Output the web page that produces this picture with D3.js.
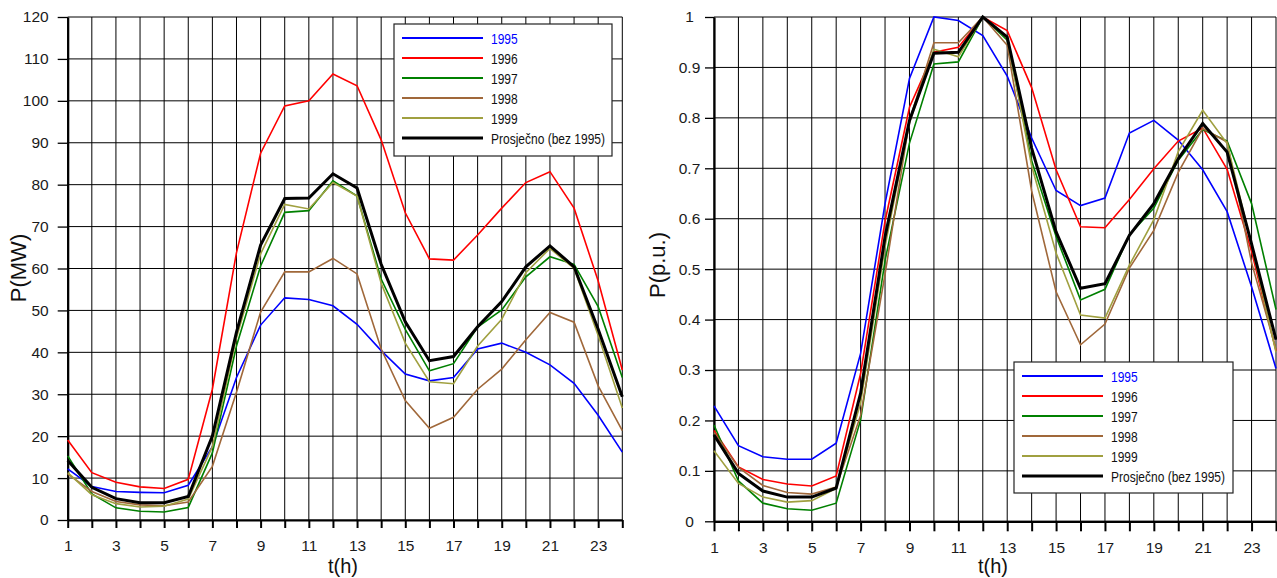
<!DOCTYPE html>
<html>
<head>
<meta charset="utf-8">
<script src="https://cdn.jsdelivr.net/npm/d3@7"></script>
<style>
  html, body { margin: 0; padding: 0; background: #fff; }
  svg { display: block; font-family: "Liberation Sans", Arial, sans-serif; }
</style>
</head>
<body>
<svg id="chart" width="1277" height="578"></svg>
<script>
// ---------- DATA ----------
const hours = [1,2,3,4,5,6,7,8,9,10,11,12,13,14,15,16,17,18,19,20,21,22,23,24];
const xTickLabels = [1,3,5,7,9,11,13,15,17,19,21,23];
const seriesNames = ["1995","1996","1997","1998","1999","Prosječno (bez 1995)"];
const seriesColors = ["#0000ff","#ff0000","#008000","#a0683a","#a0a040","#000000"];

// Left chart: P (MW)
const mw1995 = [12.2,8.0,6.8,6.6,6.5,8.3,17.5,34.0,46.5,53.0,52.6,51.1,46.7,40.4,34.8,33.2,34.0,40.8,42.2,40.0,37.0,32.6,25.0,16.2];
const mw1996 = [19.1,11.3,9.0,7.9,7.5,9.7,31.2,63.8,87.5,98.8,100.0,106.4,103.6,90.7,73.3,62.3,62.0,68.0,74.4,80.5,83.1,74.4,57.0,35.8];
const mw1997 = [15.3,6.2,2.9,2.1,1.9,3.0,16.0,41.5,60.6,73.4,73.8,80.9,77.3,57.5,45.5,35.6,37.3,46.0,50.1,58.0,62.8,61.0,50.9,34.0];
const mw1998 = [11.0,6.8,4.4,3.6,3.4,4.3,12.8,30.5,49.6,59.2,59.2,62.4,58.7,40.8,28.5,21.9,24.5,31.2,36.0,43.0,49.5,47.2,32.0,21.3];
const mw1999 = [11.3,6.0,3.9,3.1,3.3,5.0,17.5,43.5,63.5,75.3,74.2,80.5,77.3,56.5,42.2,33.0,32.5,41.5,47.9,59.0,64.8,60.0,44.0,26.7];
const mwAvg  = [14.2,7.8,5.1,4.1,4.1,5.6,20.0,44.8,65.6,76.7,76.8,82.6,79.2,61.0,47.3,38.0,39.0,46.1,52.1,60.4,65.4,60.4,45.5,29.4];
const mwTicks = [0,10,20,30,40,50,60,70,80,90,100,110,120];

// Right chart: P (p.u.)
const pu1995 = [0.229,0.150,0.128,0.123,0.123,0.155,0.333,0.630,0.878,1.000,0.993,0.963,0.883,0.760,0.656,0.626,0.641,0.770,0.795,0.756,0.697,0.614,0.465,0.303];
const pu1996 = [0.180,0.108,0.083,0.074,0.070,0.090,0.293,0.595,0.821,0.930,0.940,1.000,0.973,0.860,0.697,0.584,0.582,0.638,0.699,0.754,0.780,0.698,0.535,0.338];
const pu1997 = [0.191,0.080,0.036,0.025,0.022,0.036,0.201,0.517,0.750,0.907,0.911,1.000,0.954,0.715,0.565,0.439,0.460,0.568,0.621,0.716,0.777,0.754,0.630,0.420];
const pu1998 = [0.176,0.107,0.071,0.057,0.054,0.068,0.210,0.490,0.795,0.949,0.949,1.000,0.944,0.655,0.455,0.350,0.391,0.502,0.577,0.692,0.779,0.752,0.513,0.341];
const pu1999 = [0.140,0.075,0.048,0.038,0.041,0.065,0.235,0.545,0.790,0.936,0.921,1.000,0.958,0.705,0.532,0.409,0.403,0.508,0.598,0.733,0.815,0.749,0.547,0.335];
const puAvg  = [0.171,0.095,0.060,0.048,0.048,0.066,0.254,0.564,0.795,0.928,0.930,1.000,0.960,0.740,0.574,0.462,0.471,0.567,0.630,0.719,0.789,0.732,0.550,0.360];
const puTicks = [0,0.1,0.2,0.3,0.4,0.5,0.6,0.7,0.8,0.9,1];

// ---------- DRAW ----------
const svg = d3.select("#chart");

function drawChart(cfg) {
  const x = d3.scaleLinear().domain([1,24]).range([cfg.x0, cfg.x1]);
  const y = d3.scaleLinear().domain([cfg.yMin, cfg.yMax]).range([cfg.y0, cfg.y1]);
  const g = svg.append("g");

  // grid
  g.append("g").selectAll("line.v").data(hours).join("line")
    .attr("x1", d => x(d)).attr("x2", d => x(d))
    .attr("y1", y(cfg.yMax)).attr("y2", y(cfg.yMin))
    .attr("stroke", "#000").attr("stroke-width", 1);
  g.append("g").selectAll("line.h").data(cfg.yTicks).join("line")
    .attr("x1", x(1)).attr("x2", x(24))
    .attr("y1", d => y(d)).attr("y2", d => y(d))
    .attr("stroke", "#000").attr("stroke-width", 1);

  // x axis
  const xa = g.append("g").attr("transform", `translate(0,${y(cfg.yMin)})`)
    .call(d3.axisBottom(x).tickValues(hours).tickSize(cfg.xTickLen).tickSizeOuter(0)
      .tickPadding(cfg.xPad)
      .tickFormat(d => xTickLabels.includes(d) ? String(d) : ""));
  xa.select(".domain").attr("stroke", "#000").attr("stroke-width", 2.2);
  xa.selectAll(".tick line").attr("stroke", "#000").attr("stroke-width", 2);
  xa.selectAll(".tick text").attr("font-size", 15.5).attr("fill", "#1a1a1a")
    .attr("font-family", "Liberation Sans, Arial, sans-serif");

  // y axis
  const ya = g.append("g").attr("transform", `translate(${x(1)},0)`)
    .call(d3.axisLeft(y).tickValues(cfg.yTicks).tickSize(cfg.yTickLen).tickSizeOuter(0)
      .tickPadding(cfg.yPad).tickFormat(cfg.yFmt));
  ya.select(".domain").attr("stroke", "#000").attr("stroke-width", 2.2);
  ya.selectAll(".tick line").attr("stroke", "#000").attr("stroke-width", 1.3);
  ya.selectAll(".tick text").attr("font-size", 15.5).attr("fill", "#1a1a1a")
    .attr("font-family", "Liberation Sans, Arial, sans-serif");
  if (cfg.yCenter !== undefined) {
    ya.selectAll(".tick text").attr("text-anchor", "middle").attr("x", cfg.yCenter);
  }

  // series
  const line = d3.line().x((d, i) => x(hours[i])).y(d => y(d));
  cfg.series.forEach((s, i) => {
    g.append("path").datum(s)
      .attr("fill", "none")
      .attr("stroke", seriesColors[i])
      .attr("stroke-width", i === 5 ? 3 : 1.6)
      .attr("stroke-linejoin", "miter")
      .attr("d", line);
  });

  // axis titles
  g.append("text")
    .attr("transform", `translate(${cfg.yLabelX},${cfg.yLabelY}) rotate(-90)`)
    .attr("text-anchor", "middle").attr("font-size", 22).attr("fill", "#111")
    .text(cfg.yLabel);
  g.append("text")
    .attr("x", cfg.xLabelX).attr("y", 573)
    .attr("text-anchor", "middle").attr("font-size", 20).attr("fill", "#111")
    .text("t(h)");

  // legend
  const L = cfg.legend;
  const lg = g.append("g");
  lg.append("rect").attr("x", L.x).attr("y", L.y).attr("width", L.w).attr("height", L.h)
    .attr("fill", "#fff").attr("stroke", "#222").attr("stroke-width", 1.2);
  seriesNames.forEach((name, i) => {
    const ry = L.y + 14 + i * 20;
    lg.append("line").attr("x1", L.x + 8).attr("x2", L.x + 89)
      .attr("y1", ry).attr("y2", ry)
      .attr("stroke", seriesColors[i]).attr("stroke-width", i === 5 ? 3.2 : 2);
    lg.append("text")
      .attr("transform", `translate(${L.x + 97},${ry + 5.5}) scale(0.8,1)`)
      .attr("font-size", 15).attr("fill", i === 0 ? "#0000ff" : "#111")
      .text(name);
  });
}

drawChart({
  x0: 67.7, x1: 622.3, y0: 520, y1: 17, yMin: 0, yMax: 120,
  yTicks: mwTicks, yFmt: d => String(d),
  xTickLen: 8, xPad: 12, yTickLen: 10, yPad: 9,
  series: [mw1995, mw1996, mw1997, mw1998, mw1999, mwAvg],
  yLabel: "P(MW)", yLabelX: 26, yLabelY: 268, xLabelX: 343,
  legend: { x: 394, y: 24, w: 218, h: 132 }
});

drawChart({
  x0: 714, x1: 1276, y0: 521.3, y1: 17, yMin: 0, yMax: 1,
  yTicks: puTicks, yFmt: d => (d === 0 ? "0" : d === 1 ? "1" : d3.format(".1f")(d)),
  xTickLen: 10, xPad: 11, yTickLen: 9, yPad: 6, yCenter: -24.5,
  series: [pu1995, pu1996, pu1997, pu1998, pu1999, puAvg],
  yLabel: "P(p.u.)", yLabelX: 665, yLabelY: 265, xLabelX: 993,
  legend: { x: 1014, y: 362, w: 219, h: 131 }
});
</script>
</body>
</html>
